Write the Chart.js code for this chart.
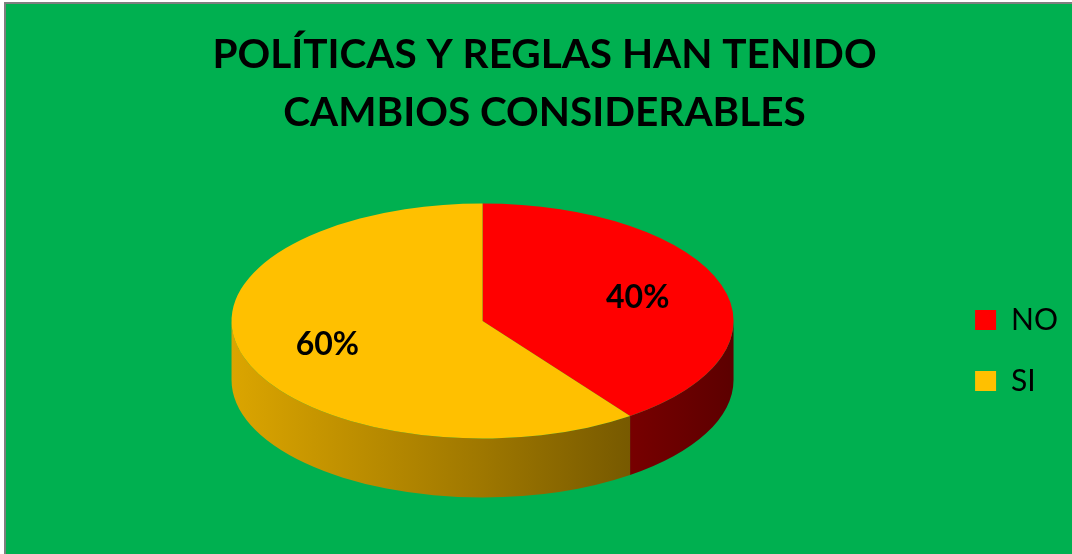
<!DOCTYPE html>
<html>
<head>
<meta charset="utf-8">
<script src="https://cdn.jsdelivr.net/npm/chart.js@4/dist/chart.umd.min.js"></script>
<style>
  html, body { margin: 0; padding: 0; background: #fff; overflow: hidden; }
  #wrap { position: relative; width: 1072px; height: 554px; }
</style>
</head>
<body>
<div id="wrap"><canvas id="c"></canvas></div>
<script>
// ---- data ----
const categories = ['NO', 'SI'];
const values = [40, 60];
const titleLines = ['POLÍTICAS Y REGLAS HAN TENIDO', 'CAMBIOS CONSIDERABLES'];

// ---- 3D look parameters ----
const DEPTH = 59;              // thickness of the pie (px)
const SX = 251 / 117.5;        // horizontal stretch of the tilted disc
const LABEL_F = 0.65;          // label distance as fraction of radius

function shade(hex, k) {
  const h = hex.replace('#', '');
  const r = Math.round(parseInt(h.substr(0, 2), 16) * k);
  const g = Math.round(parseInt(h.substr(2, 2), 16) * k);
  const b = Math.round(parseInt(h.substr(4, 2), 16) * k);
  return `rgb(${r},${g},${b})`;
}

const frame = {
  id: 'frame',
  beforeDraw(chart) {
    const { ctx, width, height } = chart;
    ctx.save();
    ctx.fillStyle = '#ffffff';
    ctx.fillRect(0, 0, width, height);
    ctx.fillStyle = '#7f7f7f';
    ctx.fillRect(4, 2, width, height);
    ctx.fillStyle = '#00B050';
    ctx.fillRect(6, 4, width, height);
    ctx.restore();
  }
};

const pie3d = {
  id: 'pie3d',
  beforeDatasetsDraw(chart) {
    const ctx = chart.ctx;
    const meta = chart.getDatasetMeta(0);
    const first = meta.data[0];
    const cx = first.x, cy = first.y;
    ctx.save();
    ctx.translate(cx, cy - DEPTH / 2);
    ctx.scale(SX, 1);
    ctx.translate(-cx, -cy);
    meta.data.forEach((arc) => {
      const { x, y, startAngle, endAngle, outerRadius } = arc;
      const r = outerRadius;
      const color = arc.options.backgroundColor;
      for (let k = -1; k <= 1; k++) {
        const s = Math.max(startAngle, 2 * Math.PI * k);
        const e = Math.min(endAngle, 2 * Math.PI * k + Math.PI);
        if (e <= s) continue;
        const g = ctx.createLinearGradient(x - r, 0, x + r, 0);
        g.addColorStop(0, shade(color, 0.86));
        g.addColorStop(0.5, shade(color, 0.62));
        g.addColorStop(1, shade(color, 0.36));
        ctx.beginPath();
        ctx.arc(x, y, r, s, e);
        ctx.arc(x, y + DEPTH, r, e, s, true);
        ctx.closePath();
        ctx.fillStyle = g;
        ctx.fill();
      }
    });
  },
  afterDatasetsDraw(chart) {
    const ctx = chart.ctx;
    ctx.restore();
    const meta = chart.getDatasetMeta(0);
    const data = chart.data.datasets[0].data;
    const total = data.reduce((a, b) => a + b, 0);
    ctx.save();
    ctx.font = 'bold 32px Lato';
    ctx.fillStyle = '#000';
    ctx.textAlign = 'center';
    ctx.textBaseline = 'middle';
    meta.data.forEach((arc, i) => {
      const mid = (arc.startAngle + arc.endAngle) / 2;
      const px = arc.x + Math.cos(mid) * arc.outerRadius * LABEL_F * SX;
      const py = arc.y - DEPTH / 2 + Math.sin(mid) * arc.outerRadius * LABEL_F;
      ctx.fillText(Math.round(data[i] / total * 100) + '%', px, py);
    });
    ctx.restore();
  }
};

new Chart(document.getElementById('c'), {
  type: 'pie',
  data: {
    labels: categories,
    datasets: [{
      data: values,
      backgroundColor: ['#FF0000', '#FFC000'],
      borderWidth: 0,
      radius: 117.5,
      clip: false
    }]
  },
  options: {
    responsive: true,
    maintainAspectRatio: false,
    animation: false,
    events: [],
    layout: { padding: { left: 21, right: 4, top: 0, bottom: 4 } },
    plugins: {
      title: {
        display: true,
        text: titleLines,
        color: '#000',
        font: { family: 'Lato', weight: 'bold', size: 40.5, lineHeight: '58px' },
        padding: { top: 26, bottom: 9 }
      },
      legend: {
        position: 'right',
        fullSize: false,
        align: 'center',
        labels: {
          boxWidth: 21,
          boxHeight: 20,
          padding: 31,
          color: '#000',
          font: { family: 'Lato', size: 30 }
        }
      },
      tooltip: { enabled: false }
    }
  },
  plugins: [frame, pie3d]
});
</script>
</body>
</html>
